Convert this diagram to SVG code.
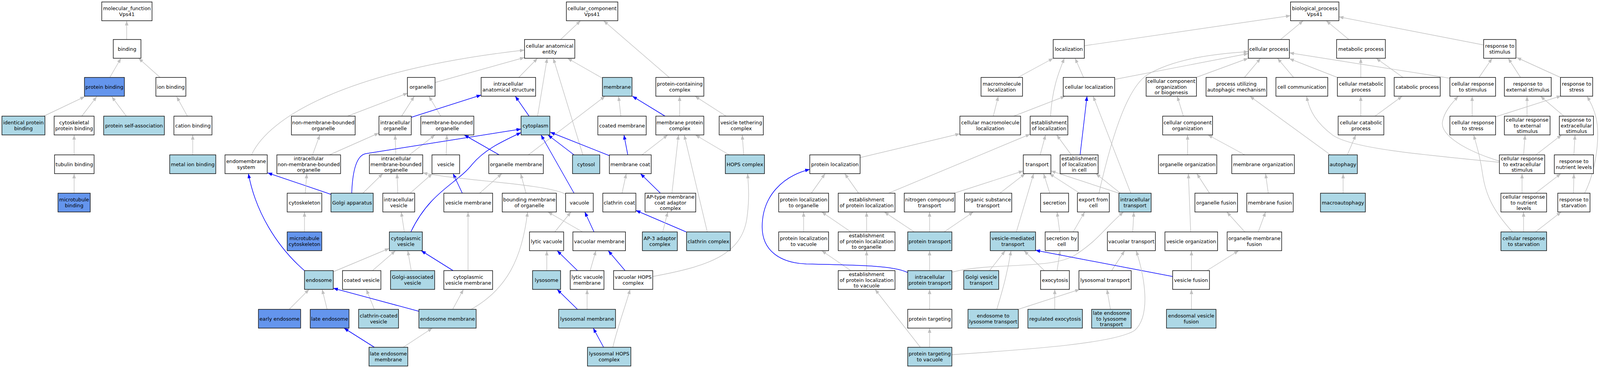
<svg xmlns="http://www.w3.org/2000/svg" width="4167" height="941" viewBox="0 0 4167 941">
<style>
.bg{fill:#fff;stroke:none}
rect.w{fill:#fff;stroke:#111;stroke-width:1.5}
rect.lb{fill:#add8e6;stroke:#111;stroke-width:1.5}
rect.cb{fill:#6495ed;stroke:#111;stroke-width:1.5}
text{font-family:"DejaVu Sans","Liberation Sans",sans-serif;font-size:13px;text-anchor:middle;fill:#000}
.g{stroke:#c0c0c0;stroke-width:1.4;fill:none;marker-end:url(#ag)}
.b{stroke:#0000ff;stroke-width:1.5;fill:none;marker-end:url(#ab)}
</style>
<defs>
<marker id="ag" viewBox="0 0 12 9" refX="12" refY="4.5" markerWidth="12" markerHeight="9" orient="auto" markerUnits="userSpaceOnUse"><path d="M0,0 L12,4.5 L0,9 z" fill="#c0c0c0"/></marker>
<marker id="ab" viewBox="0 0 12 9" refX="12" refY="4.5" markerWidth="12" markerHeight="9" orient="auto" markerUnits="userSpaceOnUse"><path d="M0,0 L12,4.5 L0,9 z" fill="#0000ff"/></marker>
</defs>
<rect class="bg" x="0" y="0" width="4167" height="941"/>
<g id="diagram" transform="scale(0.98296 1)">
<g id="edges">
<path class="g" d="M330,101 L330,53"/>
<path class="g" d="M286,198 L315,149"/>
<path class="g" d="M417,198 L361,149"/>
<path class="g" d="M114,297 L221,247"/>
<path class="g" d="M213,297 L252,247"/>
<path class="g" d="M329,297 L291,247"/>
<path class="g" d="M488,297 L460,247"/>
<path class="g" d="M193,396 L193,345"/>
<path class="g" d="M502,396 L502,345"/>
<path class="g" d="M193,494 L193,444"/>
<path class="g" d="M1460,101 L1512,53"/>
<path class="g" d="M1743,198 L1572,53"/>
<path class="g" d="M1133,211 L1366,147"/>
<path class="g" d="M655,396 C700,300 900,180 1366,128"/>
<path class="g" d="M1351,198 L1400,149"/>
<path class="g" d="M1400,297 L1425,149"/>
<path class="g" d="M1518,396 L1441,149"/>
<path class="g" d="M1569,200 L1478,149"/>
<path class="g" d="M905,297 L1062,238"/>
<path class="g" d="M1046,297 L1079,246"/>
<path class="g" d="M1148,297 L1117,246"/>
<path class="b" d="M1071,300 L1253,243"/>
<path class="b" d="M1378,297 L1342,246"/>
<path class="g" d="M1617,297 L1611,246"/>
<path class="b" d="M1732,297 L1647,246"/>
<path class="g" d="M1770,297 L1770,246"/>
<path class="g" d="M1891,297 L1810,246"/>
<path class="g" d="M1376,396 L1576,246"/>
<path class="g" d="M814,396 L833,345"/>
<path class="g" d="M858,396 L987,340"/>
<path class="g" d="M1031,396 L1029,345"/>
<path class="g" d="M1066,396 L1133,345"/>
<path class="g" d="M1162,396 L1164,345"/>
<path class="b" d="M1300,396 L1209,345"/>
<path class="b" d="M916,494 C918,440 928,398 952,393 L1357,330"/>
<path class="b" d="M1070,593 C1120,490 1190,470 1230,420 C1260,385 1300,365 1357,339"/>
<path class="b" d="M1495,494 L1409,345"/>
<path class="b" d="M1495,396 L1427,345"/>
<path class="b" d="M1587,398 L1433,338"/>
<path class="b" d="M1635,396 L1625,345"/>
<path class="g" d="M1672,396 L1739,345"/>
<path class="g" d="M1899,396 L1811,345"/>
<path class="g" d="M1937,396 L1933,345"/>
<path class="g" d="M1620,494 L1631,444"/>
<path class="b" d="M1720,494 L1668,444"/>
<path class="g" d="M1750,494 L1767,345"/>
<path class="g" d="M1842,593 L1782,345"/>
<path class="b" d="M862,497 L697,442"/>
<path class="b" d="M793,692 C720,630 665,540 647,444"/>
<path class="g" d="M795,494 L799,444"/>
<path class="g" d="M945,494 L997,444"/>
<path class="g" d="M1036,494 L1034,444"/>
<path class="g" d="M1068,494 L1126,444"/>
<path class="b" d="M1204,494 L1180,444"/>
<path class="g" d="M1249,494 L1307,444"/>
<path class="g" d="M1370,494 L1356,444"/>
<path class="g" d="M1472,496 C1420,470 1200,462 1101,442"/>
<path class="g" d="M793,593 L793,542"/>
<path class="g" d="M1053,593 L1045,542"/>
<path class="g" d="M1445,593 L1487,542"/>
<path class="b" d="M1547,593 L1523,542"/>
<path class="g" d="M1517,593 L1427,542"/>
<path class="b" d="M1787,593 L1656,538"/>
<path class="g" d="M1726,593 L1739,542"/>
<path class="g" d="M868,695 L1014,635"/>
<path class="g" d="M970,692 L1030,641"/>
<path class="g" d="M1071,692 L1062,641"/>
<path class="b" d="M1180,692 L1097,641"/>
<path class="g" d="M1219,692 L1219,542"/>
<path class="g" d="M1424,692 L1424,641"/>
<path class="b" d="M1504,692 L1451,641"/>
<path class="g" d="M1537,692 L1552,641"/>
<path class="b" d="M1628,692 L1584,641"/>
<path class="g" d="M1700,707 C1850,680 1930,650 1945,560 C1952,510 1950,480 1947,444"/>
<path class="g" d="M753,791 L805,740"/>
<path class="g" d="M852,791 L839,740"/>
<path class="g" d="M975,791 L954,740"/>
<path class="b" d="M1091,796 L868,737"/>
<path class="g" d="M1179,791 L1207,740"/>
<path class="g" d="M1227,791 C1320,740 1360,660 1374,542"/>
<path class="b" d="M1504,791 L1451,740"/>
<path class="g" d="M1529,791 L1529,740"/>
<path class="b" d="M975,888 L896,839"/>
<path class="g" d="M1050,888 L1126,839"/>
<path class="b" d="M1572,888 L1545,839"/>
<path class="g" d="M1596,888 C1610,830 1630,780 1641,740"/>
<path class="g" d="M2824,117 L3361,40"/>
<path class="g" d="M3335,101 L3394,53"/>
<path class="g" d="M3513,101 L3454,53"/>
<path class="g" d="M3864,115 L3487,43"/>
<path class="g" d="M2651,198 L2743,149"/>
<path class="g" d="M2822,198 L2800,149"/>
<path class="g" d="M2736,297 C2740,230 2755,190 2772,149"/>
<path class="g" d="M2903,203 L3251,137"/>
<path class="g" d="M3115,198 L3251,149"/>
<path class="g" d="M3241,198 L3283,149"/>
<path class="g" d="M3369,198 L3327,149"/>
<path class="g" d="M3483,198 L3358,150"/>
<path class="g" d="M3776,200 L3358,135"/>
<path class="g" d="M2862,494 C2900,330 2940,220 2990,190 C3060,150 3160,138 3251,132"/>
<path class="g" d="M2640,297 L2774,246"/>
<path class="g" d="M2587,297 L2600,246"/>
<path class="b" d="M2813,396 L2831,246"/>
<path class="g" d="M2790,396 L2752,345"/>
<path class="g" d="M2709,396 L2723,345"/>
<path class="g" d="M2240,403 L2500,342"/>
<path class="g" d="M2236,494 L2200,444"/>
<path class="g" d="M2113,494 L2149,444"/>
<path class="g" d="M2314,494 L2683,343"/>
<path class="g" d="M2485,494 L2665,437"/>
<path class="g" d="M2604,494 L2670,444"/>
<path class="g" d="M2647,593 L2692,444"/>
<path class="g" d="M2734,494 L2718,444"/>
<path class="g" d="M2812,494 L2733,444"/>
<path class="g" d="M2914,494 L2737,437"/>
<path class="g" d="M2918,494 L2854,444"/>
<path class="g" d="M2945,494 L2847,246"/>
<path class="g" d="M2093,593 L2093,542"/>
<path class="g" d="M2216,593 L2140,542"/>
<path class="g" d="M2257,593 L2257,542"/>
<path class="g" d="M2381,593 L2303,542"/>
<path class="g" d="M2421,593 L2421,542"/>
<path class="g" d="M2459,593 L2535,542"/>
<path class="g" d="M2760,593 L2753,542"/>
<path class="g" d="M2795,593 L2825,542"/>
<path class="g" d="M2950,593 L2953,542"/>
<path class="g" d="M3101,593 L3095,444"/>
<path class="g" d="M3242,593 L3195,542"/>
<path class="g" d="M3277,593 L3296,542"/>
<path class="g" d="M3150,494 L3117,444"/>
<path class="g" d="M3303,494 L3296,444"/>
<path class="g" d="M3498,494 L3498,444"/>
<path class="g" d="M3964,494 L3964,444"/>
<path class="g" d="M3999,494 L4065,444"/>
<path class="g" d="M4098,494 L4099,444"/>
<path class="g" d="M4127,494 C4150,450 4165,380 4160,320 C4157,290 4145,265 4133,246"/>
<path class="g" d="M3939,593 C3890,540 3870,500 3862,450 C3855,400 3845,370 3838,345"/>
<path class="g" d="M3968,593 L3968,542"/>
<path class="g" d="M3999,593 L4066,542"/>
<path class="g" d="M3544,198 L3544,149"/>
<path class="g" d="M3654,198 L3584,149"/>
<path class="g" d="M3852,198 L3886,149"/>
<path class="g" d="M3960,198 L3928,149"/>
<path class="g" d="M4064,198 L3950,147"/>
<path class="g" d="M3544,297 L3544,246"/>
<path class="g" d="M3581,297 L3652,246"/>
<path class="g" d="M3834,297 L3834,246"/>
<path class="g" d="M3894,299 L4066,245"/>
<path class="g" d="M3977,297 L3977,246"/>
<path class="g" d="M4073,297 L4012,246"/>
<path class="g" d="M3509,396 L3531,345"/>
<path class="g" d="M3465,396 L3255,246"/>
<path class="g" d="M3904,415 C3700,395 3520,380 3470,345 C3430,315 3410,285 3403,246"/>
<path class="g" d="M3905,412 C3800,380 3750,340 3757,310 C3762,285 3780,265 3798,246"/>
<path class="g" d="M3968,396 L3972,345"/>
<path class="g" d="M4000,396 L4067,345"/>
<path class="g" d="M4099,396 L4102,345"/>
<path class="g" d="M3082,297 L3066,246"/>
<path class="g" d="M3093,396 L3093,345"/>
<path class="g" d="M3242,396 L3146,345"/>
<path class="g" d="M2216,692 L2140,641"/>
<path class="g" d="M2257,692 L2257,641"/>
<path class="g" d="M2421,692 L2421,641"/>
<path class="g" d="M2479,696 C2580,670 2740,690 2800,652 C2860,615 2880,580 2926,542"/>
<path class="b" d="M2364,697 C2330,680 2250,678 2100,675 C2030,672 1985,640 1985,580 C1985,500 2040,450 2109,433"/>
<path class="g" d="M2577,692 L2618,641"/>
<path class="g" d="M2596,791 C2615,730 2625,690 2633,641"/>
<path class="g" d="M2720,692 L2667,641"/>
<path class="g" d="M2753,692 L2761,641"/>
<path class="g" d="M2895,692 L2929,641"/>
<path class="g" d="M3103,692 L3103,641"/>
<path class="g" d="M3143,692 L3226,641"/>
<path class="b" d="M3054,707 L2697,640"/>
<path class="g" d="M2421,791 L2421,740"/>
<path class="g" d="M2747,791 L2747,740"/>
<path class="g" d="M2652,791 L2812,740"/>
<path class="g" d="M2892,791 L2883,740"/>
<path class="g" d="M3103,791 L3103,740"/>
<path class="g" d="M2421,888 L2421,839"/>
<path class="g" d="M2397,888 L2279,740"/>
<path class="g" d="M2479,907 C2650,895 2900,880 2955,845 C2995,810 2985,720 2959,641"/>
</g>
<g id="n_mf"><rect class="w" x="265" y="5" width="131" height="48"/><text><tspan x="330.5" y="26.5">molecular_function</tspan><tspan x="330.5" y="41">Vps41</tspan></text></g>
<g id="n_binding"><rect class="w" x="295" y="101" width="72" height="48"/><text x="331" y="129.7">binding</text></g>
<g id="n_protein_binding"><rect class="cb" x="220" y="198" width="104" height="48"/><text x="272" y="226.7">protein binding</text></g>
<g id="n_ion_binding"><rect class="w" x="406" y="198" width="78" height="48"/><text x="445" y="226.7">ion binding</text></g>
<g id="n_identical_protein_binding"><rect class="lb" x="5" y="297" width="112" height="48"/><text><tspan x="61" y="318.5">identical protein</tspan><tspan x="61" y="333">binding</tspan></text></g>
<g id="n_cytoskeletal_protein_binding"><rect class="w" x="141" y="297" width="104" height="48"/><text><tspan x="193" y="318.5">cytoskeletal</tspan><tspan x="193" y="333">protein binding</tspan></text></g>
<g id="n_protein_self_association"><rect class="lb" x="270" y="297" width="158" height="48"/><text x="349" y="325.7">protein self-association</text></g>
<g id="n_cation_binding"><rect class="w" x="453" y="297" width="99" height="48"/><text x="502.5" y="325.7">cation binding</text></g>
<g id="n_tubulin_binding"><rect class="w" x="142" y="396" width="103" height="48"/><text x="193.5" y="424.7">tubulin binding</text></g>
<g id="n_metal_ion_binding"><rect class="lb" x="442" y="396" width="120" height="48"/><text x="502" y="424.7">metal ion binding</text></g>
<g id="n_microtubule_binding"><rect class="cb" x="151" y="494" width="84" height="48"/><text><tspan x="193" y="515.5">microtubule</tspan><tspan x="193" y="530">binding</tspan></text></g>
<g id="n_cc"><rect class="w" x="1475" y="5" width="134" height="48"/><text><tspan x="1542" y="26.5">cellular_component</tspan><tspan x="1542" y="41">Vps41</tspan></text></g>
<g id="n_cae"><rect class="w" x="1366" y="101" width="131" height="48"/><text><tspan x="1431.5" y="122.5">cellular anatomical</tspan><tspan x="1431.5" y="137">entity</tspan></text></g>
<g id="n_organelle"><rect class="w" x="1061" y="198" width="72" height="48"/><text x="1097" y="226.7">organelle</text></g>
<g id="n_ias"><rect class="w" x="1253" y="198" width="142" height="48"/><text><tspan x="1324" y="219.5">intracellular</tspan><tspan x="1324" y="234">anatomical structure</tspan></text></g>
<g id="n_membrane"><rect class="lb" x="1569" y="198" width="77" height="48"/><text x="1607.5" y="226.7">membrane</text></g>
<g id="n_pcc"><rect class="w" x="1708" y="198" width="125" height="48"/><text><tspan x="1770.5" y="219.5">protein-containing</tspan><tspan x="1770.5" y="234">complex</tspan></text></g>
<g id="n_nmbo"><rect class="w" x="759" y="297" width="166" height="48"/><text><tspan x="842" y="318.5">non-membrane-bounded</tspan><tspan x="842" y="333">organelle</tspan></text></g>
<g id="n_io"><rect class="w" x="987" y="297" width="84" height="48"/><text><tspan x="1029" y="318.5">intracellular</tspan><tspan x="1029" y="333">organelle</tspan></text></g>
<g id="n_mbo"><rect class="w" x="1096" y="297" width="138" height="48"/><text><tspan x="1165" y="318.5">membrane-bounded</tspan><tspan x="1165" y="333">organelle</tspan></text></g>
<g id="n_cytoplasm"><rect class="lb" x="1357" y="297" width="75" height="48"/><text x="1394.5" y="325.7">cytoplasm</text></g>
<g id="n_coated_membrane"><rect class="w" x="1557" y="297" width="126" height="48"/><text x="1620" y="325.7">coated membrane</text></g>
<g id="n_mpc"><rect class="w" x="1708" y="297" width="125" height="48"/><text><tspan x="1770.5" y="318.5">membrane protein</tspan><tspan x="1770.5" y="333">complex</tspan></text></g>
<g id="n_vtc"><rect class="w" x="1873" y="297" width="115" height="48"/><text><tspan x="1930.5" y="318.5">vesicle tethering</tspan><tspan x="1930.5" y="333">complex</tspan></text></g>
<g id="n_endomembrane"><rect class="w" x="586" y="396" width="110" height="48"/><text><tspan x="641" y="417.5">endomembrane</tspan><tspan x="641" y="432">system</tspan></text></g>
<g id="n_inmbo"><rect class="w" x="721" y="396" width="166" height="48"/><text><tspan x="804" y="410.2">intracellular</tspan><tspan x="804" y="424.7">non-membrane-bounded</tspan><tspan x="804" y="439.2">organelle</tspan></text></g>
<g id="n_imbo"><rect class="w" x="962" y="396" width="139" height="48"/><text><tspan x="1031.5" y="410.2">intracellular</tspan><tspan x="1031.5" y="424.7">membrane-bounded</tspan><tspan x="1031.5" y="439.2">organelle</tspan></text></g>
<g id="n_vesicle"><rect class="w" x="1125" y="396" width="72" height="48"/><text x="1161" y="424.7">vesicle</text></g>
<g id="n_organelle_membrane"><rect class="w" x="1273" y="396" width="142" height="48"/><text x="1344" y="424.7">organelle membrane</text></g>
<g id="n_cytosol"><rect class="lb" x="1491" y="396" width="71" height="48"/><text x="1526.5" y="424.7">cytosol</text></g>
<g id="n_membrane_coat"><rect class="w" x="1587" y="396" width="109" height="48"/><text x="1641.5" y="424.7">membrane coat</text></g>
<g id="n_hops"><rect class="lb" x="1889" y="396" width="102" height="48"/><text x="1940" y="424.7">HOPS complex</text></g>
<g id="n_cytoskeleton"><rect class="w" x="748" y="494" width="90" height="48"/><text x="793" y="522.7">cytoskeleton</text></g>
<g id="n_golgi"><rect class="lb" x="862" y="494" width="110" height="48"/><text x="917" y="522.7">Golgi apparatus</text></g>
<g id="n_iv"><rect class="w" x="997" y="494" width="83" height="48"/><text><tspan x="1038.5" y="515.5">intracellular</tspan><tspan x="1038.5" y="530">vesicle</tspan></text></g>
<g id="n_vesicle_membrane"><rect class="w" x="1156" y="494" width="127" height="48"/><text x="1219.5" y="522.7">vesicle membrane</text></g>
<g id="n_bmo"><rect class="w" x="1308" y="494" width="141" height="48"/><text><tspan x="1378.5" y="515.5">bounding membrane</tspan><tspan x="1378.5" y="530">of organelle</tspan></text></g>
<g id="n_vacuole"><rect class="w" x="1473" y="494" width="72" height="48"/><text x="1509" y="522.7">vacuole</text></g>
<g id="n_clathrin_coat"><rect class="w" x="1570" y="494" width="86" height="48"/><text x="1613" y="522.7">clathrin coat</text></g>
<g id="n_aptype"><rect class="w" x="1680" y="494" width="132" height="48"/><text><tspan x="1746" y="508.2">AP-type membrane</tspan><tspan x="1746" y="522.7">coat adaptor</tspan><tspan x="1746" y="537.2">complex</tspan></text></g>
<g id="n_mtc"><rect class="cb" x="748" y="593" width="90" height="48"/><text><tspan x="793" y="614.5">microtubule</tspan><tspan x="793" y="629">cytoskeleton</tspan></text></g>
<g id="n_cv"><rect class="lb" x="1014" y="593" width="86" height="48"/><text><tspan x="1057" y="614.5">cytoplasmic</tspan><tspan x="1057" y="629">vesicle</tspan></text></g>
<g id="n_lytic_vacuole"><rect class="w" x="1379" y="593" width="89" height="48"/><text x="1423.5" y="621.7">lytic vacuole</text></g>
<g id="n_vacuolar_membrane"><rect class="w" x="1492" y="593" width="137" height="48"/><text x="1560.5" y="621.7">vacuolar membrane</text></g>
<g id="n_ap3"><rect class="lb" x="1673" y="593" width="91" height="48"/><text><tspan x="1718.5" y="614.5">AP-3 adaptor</tspan><tspan x="1718.5" y="629">complex</tspan></text></g>
<g id="n_clathrin_complex"><rect class="lb" x="1788" y="593" width="114" height="48"/><text x="1845" y="621.7">clathrin complex</text></g>
<g id="n_endosome"><rect class="lb" x="793" y="692" width="75" height="48"/><text x="830.5" y="720.7">endosome</text></g>
<g id="n_coated_vesicle"><rect class="w" x="892" y="692" width="100" height="48"/><text x="942" y="720.7">coated vesicle</text></g>
<g id="n_gav"><rect class="lb" x="1017" y="692" width="115" height="48"/><text><tspan x="1074.5" y="713.5">Golgi-associated</tspan><tspan x="1074.5" y="728">vesicle</tspan></text></g>
<g id="n_cvm"><rect class="w" x="1156" y="692" width="127" height="48"/><text><tspan x="1219.5" y="713.5">cytoplasmic</tspan><tspan x="1219.5" y="728">vesicle membrane</tspan></text></g>
<g id="n_lysosome"><rect class="lb" x="1387" y="692" width="73" height="48"/><text x="1423.5" y="720.7">lysosome</text></g>
<g id="n_lvm"><rect class="w" x="1485" y="692" width="88" height="48"/><text><tspan x="1529" y="713.5">lytic vacuole</tspan><tspan x="1529" y="728">membrane</tspan></text></g>
<g id="n_vhops"><rect class="w" x="1598" y="692" width="102" height="48"/><text><tspan x="1649" y="713.5">vacuolar HOPS</tspan><tspan x="1649" y="728">complex</tspan></text></g>
<g id="n_early_endosome"><rect class="cb" x="673" y="791" width="110" height="48"/><text x="728" y="819.7">early endosome</text></g>
<g id="n_late_endosome"><rect class="cb" x="808" y="791" width="101" height="48"/><text x="858.5" y="819.7">late endosome</text></g>
<g id="n_ccv"><rect class="lb" x="934" y="791" width="104" height="48"/><text><tspan x="986" y="812.5">clathrin-coated</tspan><tspan x="986" y="827">vesicle</tspan></text></g>
<g id="n_endosome_membrane"><rect class="lb" x="1091" y="791" width="149" height="48"/><text x="1165.5" y="819.7">endosome membrane</text></g>
<g id="n_lysosomal_membrane"><rect class="lb" x="1455" y="791" width="148" height="48"/><text x="1529" y="819.7">lysosomal membrane</text></g>
<g id="n_lem"><rect class="lb" x="961" y="888" width="101" height="48"/><text><tspan x="1011.5" y="909.5">late endosome</tspan><tspan x="1011.5" y="924">membrane</tspan></text></g>
<g id="n_lhops"><rect class="lb" x="1530" y="888" width="113" height="48"/><text><tspan x="1586.5" y="909.5">lysosomal HOPS</tspan><tspan x="1586.5" y="924">complex</tspan></text></g>
<g id="n_bp"><rect class="w" x="3361" y="5" width="126" height="48"/><text><tspan x="3424" y="26.5">biological_process</tspan><tspan x="3424" y="41">Vps41</tspan></text></g>
<g id="n_localization"><rect class="w" x="2743" y="101" width="81" height="48"/><text x="2783.5" y="129.7">localization</text></g>
<g id="n_cellular_process"><rect class="w" x="3251" y="101" width="107" height="48"/><text x="3304.5" y="129.7">cellular process</text></g>
<g id="n_metabolic_process"><rect class="w" x="3481" y="101" width="127" height="48"/><text x="3544.5" y="129.7">metabolic process</text></g>
<g id="n_response_to_stimulus"><rect class="w" x="3864" y="101" width="84" height="48"/><text><tspan x="3906" y="122.5">response to</tspan><tspan x="3906" y="137">stimulus</tspan></text></g>
<g id="n_macromolecule_localization"><rect class="w" x="2555" y="198" width="108" height="48"/><text><tspan x="2609" y="219.5">macromolecule</tspan><tspan x="2609" y="234">localization</tspan></text></g>
<g id="n_cellular_localization"><rect class="w" x="2769" y="198" width="134" height="48"/><text x="2836" y="226.7">cellular localization</text></g>
<g id="n_ccob"><rect class="w" x="2985" y="198" width="131" height="48"/><text><tspan x="3050.5" y="212.2">cellular component</tspan><tspan x="3050.5" y="226.7">organization</tspan><tspan x="3050.5" y="241.2">or biogenesis</tspan></text></g>
<g id="n_pucm"><rect class="w" x="3141" y="198" width="158" height="48"/><text><tspan x="3220" y="219.5">process utilizing</tspan><tspan x="3220" y="234">autophagic mechanism</tspan></text></g>
<g id="n_cell_communication"><rect class="w" x="3323" y="198" width="135" height="48"/><text x="3390.5" y="226.7">cell communication</text></g>
<g id="n_cmp"><rect class="w" x="3483" y="198" width="124" height="48"/><text><tspan x="3545" y="219.5">cellular metabolic</tspan><tspan x="3545" y="234">process</tspan></text></g>
<g id="n_catabolic_process"><rect class="w" x="3631" y="198" width="120" height="48"/><text x="3691" y="226.7">catabolic process</text></g>
<g id="n_crts"><rect class="w" x="3776" y="198" width="119" height="48"/><text><tspan x="3835.5" y="219.5">cellular response</tspan><tspan x="3835.5" y="234">to stimulus</tspan></text></g>
<g id="n_rtes"><rect class="w" x="3918" y="198" width="122" height="48"/><text><tspan x="3979" y="219.5">response to</tspan><tspan x="3979" y="234">external stimulus</tspan></text></g>
<g id="n_rtstress"><rect class="w" x="4064" y="198" width="84" height="48"/><text><tspan x="4106" y="219.5">response to</tspan><tspan x="4106" y="234">stress</tspan></text></g>
<g id="n_cml"><rect class="w" x="2500" y="297" width="158" height="48"/><text><tspan x="2579" y="318.5">cellular macromolecule</tspan><tspan x="2579" y="333">localization</tspan></text></g>
<g id="n_eol"><rect class="w" x="2683" y="297" width="98" height="48"/><text><tspan x="2732" y="318.5">establishment</tspan><tspan x="2732" y="333">of localization</tspan></text></g>
<g id="n_cco"><rect class="w" x="3028" y="297" width="130" height="48"/><text><tspan x="3093" y="318.5">cellular component</tspan><tspan x="3093" y="333">organization</tspan></text></g>
<g id="n_ccp"><rect class="w" x="3485" y="297" width="119" height="48"/><text><tspan x="3544.5" y="318.5">cellular catabolic</tspan><tspan x="3544.5" y="333">process</tspan></text></g>
<g id="n_crtstress"><rect class="w" x="3776" y="297" width="119" height="48"/><text><tspan x="3835.5" y="318.5">cellular response</tspan><tspan x="3835.5" y="333">to stress</tspan></text></g>
<g id="n_crtes"><rect class="w" x="3918" y="297" width="119" height="48"/><text><tspan x="3977.5" y="311.2">cellular response</tspan><tspan x="3977.5" y="325.7">to external</tspan><tspan x="3977.5" y="340.2">stimulus</tspan></text></g>
<g id="n_rtexs"><rect class="w" x="4061" y="297" width="89" height="48"/><text><tspan x="4105.5" y="311.2">response to</tspan><tspan x="4105.5" y="325.7">extracellular</tspan><tspan x="4105.5" y="340.2">stimulus</tspan></text></g>
<g id="n_protein_localization"><rect class="w" x="2109" y="396" width="131" height="48"/><text x="2174.5" y="424.7">protein localization</text></g>
<g id="n_transport"><rect class="w" x="2665" y="396" width="72" height="48"/><text x="2701" y="424.7">transport</text></g>
<g id="n_eolic"><rect class="w" x="2761" y="396" width="99" height="48"/><text><tspan x="2810.5" y="410.2">establishment</tspan><tspan x="2810.5" y="424.7">of localization</tspan><tspan x="2810.5" y="439.2">in cell</tspan></text></g>
<g id="n_organelle_organization"><rect class="w" x="3017" y="396" width="152" height="48"/><text x="3093" y="424.7">organelle organization</text></g>
<g id="n_membrane_organization"><rect class="w" x="3208" y="396" width="163" height="48"/><text x="3289.5" y="424.7">membrane organization</text></g>
<g id="n_autophagy"><rect class="lb" x="3460" y="396" width="75" height="48"/><text x="3497.5" y="424.7">autophagy</text></g>
<g id="n_crtexs"><rect class="w" x="3905" y="396" width="118" height="48"/><text><tspan x="3964" y="410.2">cellular response</tspan><tspan x="3964" y="424.7">to extracellular</tspan><tspan x="3964" y="439.2">stimulus</tspan></text></g>
<g id="n_rtnl"><rect class="w" x="4048" y="396" width="102" height="48"/><text><tspan x="4099" y="417.5">response to</tspan><tspan x="4099" y="432">nutrient levels</tspan></text></g>
<g id="n_pltoo"><rect class="w" x="2028" y="494" width="130" height="48"/><text><tspan x="2093" y="515.5">protein localization</tspan><tspan x="2093" y="530">to organelle</tspan></text></g>
<g id="n_eopl"><rect class="w" x="2183" y="494" width="148" height="48"/><text><tspan x="2257" y="515.5">establishment</tspan><tspan x="2257" y="530">of protein localization</tspan></text></g>
<g id="n_nct"><rect class="w" x="2355" y="494" width="132" height="48"/><text><tspan x="2421" y="515.5">nitrogen compound</tspan><tspan x="2421" y="530">transport</tspan></text></g>
<g id="n_ost"><rect class="w" x="2512" y="494" width="123" height="48"/><text><tspan x="2573.5" y="515.5">organic substance</tspan><tspan x="2573.5" y="530">transport</tspan></text></g>
<g id="n_secretion"><rect class="w" x="2710" y="494" width="73" height="48"/><text x="2746.5" y="522.7">secretion</text></g>
<g id="n_efc"><rect class="w" x="2806" y="494" width="83" height="48"/><text><tspan x="2847.5" y="515.5">export from</tspan><tspan x="2847.5" y="530">cell</tspan></text></g>
<g id="n_it"><rect class="lb" x="2914" y="494" width="84" height="48"/><text><tspan x="2956" y="515.5">intracellular</tspan><tspan x="2956" y="530">transport</tspan></text></g>
<g id="n_organelle_fusion"><rect class="w" x="3112" y="494" width="111" height="48"/><text x="3167.5" y="522.7">organelle fusion</text></g>
<g id="n_membrane_fusion"><rect class="w" x="3247" y="494" width="121" height="48"/><text x="3307.5" y="522.7">membrane fusion</text></g>
<g id="n_macroautophagy"><rect class="lb" x="3439" y="494" width="117" height="48"/><text x="3497.5" y="522.7">macroautophagy</text></g>
<g id="n_crtnl"><rect class="w" x="3909" y="494" width="119" height="48"/><text><tspan x="3968.5" y="508.2">cellular response</tspan><tspan x="3968.5" y="522.7">to nutrient</tspan><tspan x="3968.5" y="537.2">levels</tspan></text></g>
<g id="n_rtstarv"><rect class="w" x="4057" y="494" width="84" height="48"/><text><tspan x="4099" y="515.5">response to</tspan><tspan x="4099" y="530">starvation</tspan></text></g>
<g id="n_pltov"><rect class="w" x="2028" y="593" width="130" height="48"/><text><tspan x="2093" y="614.5">protein localization</tspan><tspan x="2093" y="629">to vacuole</tspan></text></g>
<g id="n_eopltoo"><rect class="w" x="2183" y="593" width="148" height="48"/><text><tspan x="2257" y="607.2">establishment</tspan><tspan x="2257" y="621.7">of protein localization</tspan><tspan x="2257" y="636.2">to organelle</tspan></text></g>
<g id="n_pt"><rect class="lb" x="2364" y="593" width="115" height="48"/><text x="2421.5" y="621.7">protein transport</text></g>
<g id="n_vmt"><rect class="lb" x="2579" y="593" width="118" height="48"/><text><tspan x="2638" y="614.5">vesicle-mediated</tspan><tspan x="2638" y="629">transport</tspan></text></g>
<g id="n_sbc"><rect class="w" x="2722" y="593" width="86" height="48"/><text><tspan x="2765" y="614.5">secretion by</tspan><tspan x="2765" y="629">cell</tspan></text></g>
<g id="n_vt"><rect class="w" x="2884" y="593" width="125" height="48"/><text x="2946.5" y="621.7">vacuolar transport</text></g>
<g id="n_vo"><rect class="w" x="3034" y="593" width="137" height="48"/><text x="3102.5" y="621.7">vesicle organization</text></g>
<g id="n_omf"><rect class="w" x="3196" y="593" width="142" height="48"/><text><tspan x="3267" y="614.5">organelle membrane</tspan><tspan x="3267" y="629">fusion</tspan></text></g>
<g id="n_crtstarv"><rect class="lb" x="3909" y="593" width="119" height="48"/><text><tspan x="3968.5" y="614.5">cellular response</tspan><tspan x="3968.5" y="629">to starvation</tspan></text></g>
<g id="n_eopltov"><rect class="w" x="2183" y="692" width="148" height="48"/><text><tspan x="2257" y="706.2">establishment</tspan><tspan x="2257" y="720.7">of protein localization</tspan><tspan x="2257" y="735.2">to vacuole</tspan></text></g>
<g id="n_ipt"><rect class="lb" x="2364" y="692" width="115" height="48"/><text><tspan x="2421.5" y="713.5">intracellular</tspan><tspan x="2421.5" y="728">protein transport</tspan></text></g>
<g id="n_gvt"><rect class="lb" x="2510" y="692" width="91" height="48"/><text><tspan x="2555.5" y="713.5">Golgi vesicle</tspan><tspan x="2555.5" y="728">transport</tspan></text></g>
<g id="n_exocytosis"><rect class="w" x="2710" y="692" width="75" height="48"/><text x="2747.5" y="720.7">exocytosis</text></g>
<g id="n_lt"><rect class="w" x="2810" y="692" width="136" height="48"/><text x="2878" y="720.7">lysosomal transport</text></g>
<g id="n_vf"><rect class="w" x="3054" y="692" width="96" height="48"/><text x="3102" y="720.7">vesicle fusion</text></g>
<g id="n_ptg"><rect class="w" x="2364" y="791" width="115" height="48"/><text x="2421.5" y="819.7">protein targeting</text></g>
<g id="n_etlt"><rect class="lb" x="2521" y="791" width="131" height="48"/><text><tspan x="2586.5" y="812.5">endosome to</tspan><tspan x="2586.5" y="827">lysosome transport</tspan></text></g>
<g id="n_re"><rect class="lb" x="2677" y="791" width="142" height="48"/><text x="2748" y="819.7">regulated exocytosis</text></g>
<g id="n_letlt"><rect class="lb" x="2843" y="791" width="103" height="48"/><text><tspan x="2894.5" y="805.2">late endosome</tspan><tspan x="2894.5" y="819.7">to lysosome</tspan><tspan x="2894.5" y="834.2">transport</tspan></text></g>
<g id="n_evf"><rect class="lb" x="3038" y="791" width="129" height="48"/><text><tspan x="3102.5" y="812.5">endosomal vesicle</tspan><tspan x="3102.5" y="827">fusion</tspan></text></g>
<g id="n_ptv"><rect class="lb" x="2364" y="888" width="115" height="48"/><text><tspan x="2421.5" y="909.5">protein targeting</tspan><tspan x="2421.5" y="924">to vacuole</tspan></text></g>
</g>
</svg>
